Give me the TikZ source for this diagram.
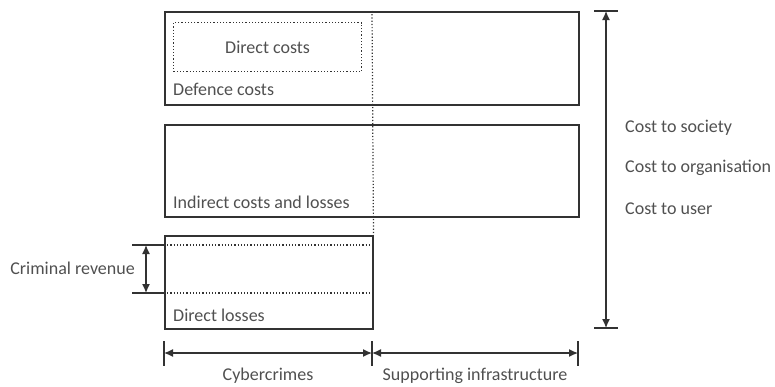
\documentclass[tikz,border=0pt]{standalone}
\usepackage{fontspec}
\setmainfont{Carlito}
\usetikzlibrary{arrows.meta, positioning, calc}
\definecolor{linegris}{RGB}{50,50,50}
\definecolor{textgris}{RGB}{80,80,80}
\tikzset{>={Latex[length=9pt,width=8pt]}}

\begin{document}
\begin{tikzpicture}[x=1pt, y=-1pt,
	box/.style={draw=linegris, line width=1.5pt, anchor=north west, inner sep=0pt},
	dotbox/.style={draw=linegris, dotted, line width=1.2pt, anchor=north west, inner sep=0pt},
	lbl/.style={text=textgris, font=\fontsize{18}{20}\selectfont, inner sep=0pt},
	dim/.style={linegris, line width=1.3pt},
	dots/.style={linegris, dotted, line width=1.2pt}]

	\useasboundingbox (0,0) rectangle (775,386);

	% boxes
	\node[box, minimum width=414pt, minimum height=93pt] (defence) at (164,11) {};
	\node[dotbox, minimum width=188pt, minimum height=49pt] (direct) at (173,22) {};
	\node[box, minimum width=414pt, minimum height=92pt] (indirect) at (164,124) {};
	\node[box, minimum width=208pt, minimum height=93pt] (losses) at (164,235) {};

	\node[lbl] (directlbl) at (direct.center) {Direct costs};
	\node[lbl, anchor=west] (defencelbl) at (173,89) {Defence costs};
	\node[lbl, anchor=west] (indirectlbl) at (173,202) {Indirect costs and losses};
	\node[lbl, anchor=west] (losseslbl) at (173,315) {Direct losses};

	% split between cybercrimes and infrastructure
	\coordinate (splittop) at (372,11);
	\draw [dots] (splittop) -- (losses.north east);

	% criminal revenue
	\coordinate (revtop) at (132,245);
	\coordinate (revbot) at (132,293);
	\draw [dim] (revtop) -- (losses.west |- revtop);
	\draw [dim] (revbot) -- (losses.west |- revbot);
	\draw [dots] (losses.west |- revtop) -- (losses.east |- revtop);
	\draw [dots] (losses.west |- revbot) -- (losses.east |- revbot);
	\draw [dim,<->] ($(revtop)+(14,0)$) -- ($(revbot)+(14,0)$);
	\node[lbl, anchor=east] (revenue) at (135,268) {Criminal revenue};

	% cost to society etc.
	\coordinate (costtop) at (606,11);
	\coordinate (costbot) at (606,328);
	\draw [dim] ($(costtop)+(-12,0)$) -- ++(24,0);
	\draw [dim] ($(costbot)+(-12,0)$) -- ++(24,0);
	\draw [dim,<->] (costtop) -- (costbot);
	\node[lbl, anchor=west] (society) at (625,128) {Cost to society};
	\node[lbl, anchor=west] (organisation) at (625,168) {Cost to organisation};
	\node[lbl, anchor=west] (user) at (625,209) {Cost to user};

	% bottom dimensions
	\coordinate (dimleft) at (164,353);
	\coordinate (dimmid) at (372,353);
	\coordinate (dimright) at (578,353);
	\foreach \c in {dimleft,dimmid,dimright}
		\draw [dim] ($(\c)+(0,-12)$) -- ++(0,25);
	\draw [dim,<->] (dimleft) -- (dimmid);
	\draw [dim,<->] (dimmid) -- (dimright);
	\node[lbl] (cyber) at (268,376) {Cybercrimes};
	\node[lbl] (infra) at (475,376) {Supporting infrastructure};

\end{tikzpicture}
\end{document}
